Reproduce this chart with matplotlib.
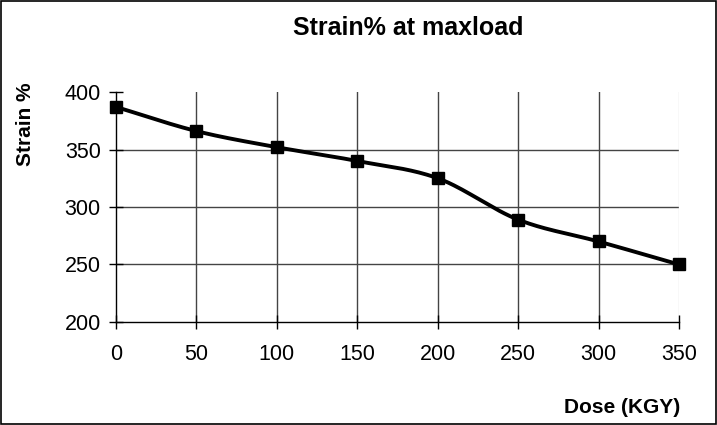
import numpy as np
import matplotlib
matplotlib.use("Agg")
import matplotlib.pyplot as plt
from matplotlib.patches import Rectangle

dose = [0, 50, 100, 150, 200, 250, 300, 350]
strain = [387, 366, 352, 340, 325, 289, 270, 250]
xticks = [0, 50, 100, 150, 200, 250, 300, 350]
yticks = [200, 250, 300, 350, 400]

plt.rcParams['font.family'] = ['Liberation Sans', 'DejaVu Sans']

fig = plt.figure(figsize=(7.17, 4.25), dpi=100)
fig.patches.append(Rectangle((0.002, 0.002), 0.996, 0.996, transform=fig.transFigure,
                             fill=False, edgecolor='black', linewidth=1.2))
ax = fig.add_axes([0.1618, 0.2424, 0.7852, 0.5411])

# Catmull-Rom smoothing (like Excel smoothed line)
def smooth(x, y, n=30):
    x = np.asarray(x, float); y = np.asarray(y, float)
    px = np.concatenate([[2*x[0]-x[1]], x, [2*x[-1]-x[-2]]])
    py = np.concatenate([[2*y[0]-y[1]], y, [2*y[-1]-y[-2]]])
    xs, ys = [], []
    for i in range(1, len(px)-2):
        t = np.linspace(0, 1, n, endpoint=False)
        for P, out in ((px, xs), (py, ys)):
            p0, p1, p2, p3 = P[i-1], P[i], P[i+1], P[i+2]
            out.extend(0.5*((2*p1) + (-p0+p2)*t + (2*p0-5*p1+4*p2-p3)*t**2 + (-p0+3*p1-3*p2+p3)*t**3))
    xs.append(x[-1]); ys.append(y[-1])
    return np.array(xs), np.array(ys)

sx, sy = smooth(dose, strain)
ax.plot(sx, sy, color='black', linewidth=2.8, zorder=3, clip_on=False)
ax.plot(dose, strain, linestyle='none', marker='s', markersize=9, color='black', zorder=4, clip_on=False)

ax.set_xlim(0, 350)
ax.set_ylim(200, 400)
ax.set_xticks(xticks)
ax.set_yticks(yticks)
ax.tick_params(axis='both', labelsize=15.5, direction='inout', length=10, width=1, colors='black')
ax.tick_params(axis='x', pad=11)
ax.tick_params(axis='y', pad=6)
for s in ['top', 'right']:
    ax.spines[s].set_visible(False)
ax.spines['left'].set_linewidth(1)
ax.spines['bottom'].set_linewidth(1)
for yv in [250, 300, 350]:
    ax.axhline(yv, color='#444444', linewidth=1, zorder=1)
for xv in xticks[1:]:
    ax.axvline(xv, color='#444444' if xv < 350 else '#dddddd', linewidth=1, zorder=1)

fig.text(0.570, 0.935, 'Strain% at maxload', ha='center', va='center', fontsize=18, fontweight='bold')
fig.text(0.036, 0.708, 'Strain %', ha='center', va='center', rotation=90, fontsize=15, fontweight='bold')
fig.text(0.949, 0.042, 'Dose (KGY)', ha='right', va='center', fontsize=15, fontweight='bold')

fig.savefig('out.png', dpi=100)
